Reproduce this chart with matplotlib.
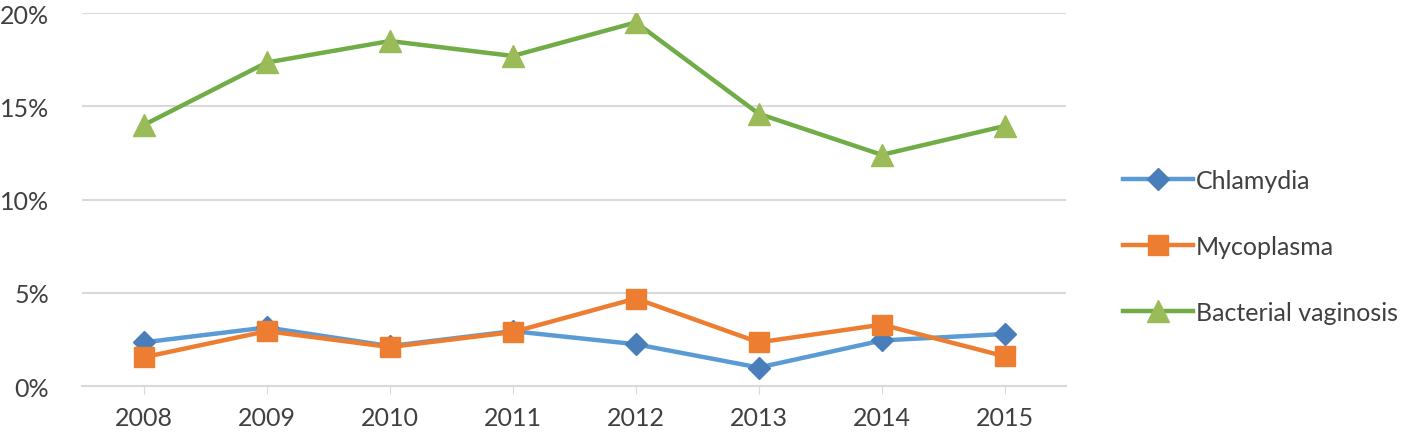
import matplotlib
matplotlib.use("Agg")
import matplotlib.pyplot as plt
from matplotlib.ticker import PercentFormatter

years = ["2008", "2009", "2010", "2011", "2012", "2013", "2014", "2015"]
chlamydia = [2.35, 3.15, 2.15, 2.95, 2.25, 1.0, 2.45, 2.8]
mycoplasma = [1.55, 2.95, 2.1, 2.9, 4.7, 2.35, 3.3, 1.6]
bacterial_vaginosis = [14.0, 17.35, 18.5, 17.7, 19.5, 14.6, 12.4, 13.95]

plt.rcParams['font.family'] = ['Lato', 'DejaVu Sans']

fig = plt.figure(figsize=(14.18, 4.39), dpi=100)
ax = fig.add_axes([0.058, 0.118, 0.694, 0.85])

x = range(len(years))
ax.plot(x, chlamydia, color='#5B9BD5', lw=3.2, marker='D', ms=11,
        mfc='#4A7EBB', mec='#4A7EBB', label='Chlamydia', zorder=3)
ax.plot(x, mycoplasma, color='#ED7D31', lw=3.2, marker='s', ms=14,
        mfc='#ED7D31', mec='#ED7D31', label='Mycoplasma', zorder=4)
ax.plot(x, bacterial_vaginosis, color='#70AD47', lw=3.2, marker='^', ms=16,
        mfc='#9BBB59', mec='#9BBB59', label='Bacterial vaginosis', zorder=3)

ax.set_xlim(-0.5, len(years) - 0.5)
ax.set_ylim(0, 20)
ax.set_yticks([0, 5, 10, 15, 20])
ax.yaxis.set_major_formatter(PercentFormatter(decimals=0))
ax.set_xticks(list(x))
ax.set_xticklabels(years)
ax.grid(axis='y', color='#D9D9D9', lw=1.5)
ax.set_axisbelow(True)
for s in ['top', 'right', 'left']:
    ax.spines[s].set_visible(False)
ax.spines['bottom'].set_color('#D9D9D9')
ax.spines['bottom'].set_linewidth(1.5)
ax.tick_params(axis='y', length=0, pad=24, labelsize=18, labelcolor='#404040')
ax.tick_params(axis='x', length=6, color='#D9D9D9', pad=8, labelsize=18,
               labelcolor='#404040')

ax.legend(loc='center left', bbox_to_anchor=(1.035, 0.375), frameon=False,
          fontsize=18, handlelength=2.8, handletextpad=0.1, labelspacing=1.72,
          labelcolor='#404040')

fig.savefig("out.png", dpi=100)
